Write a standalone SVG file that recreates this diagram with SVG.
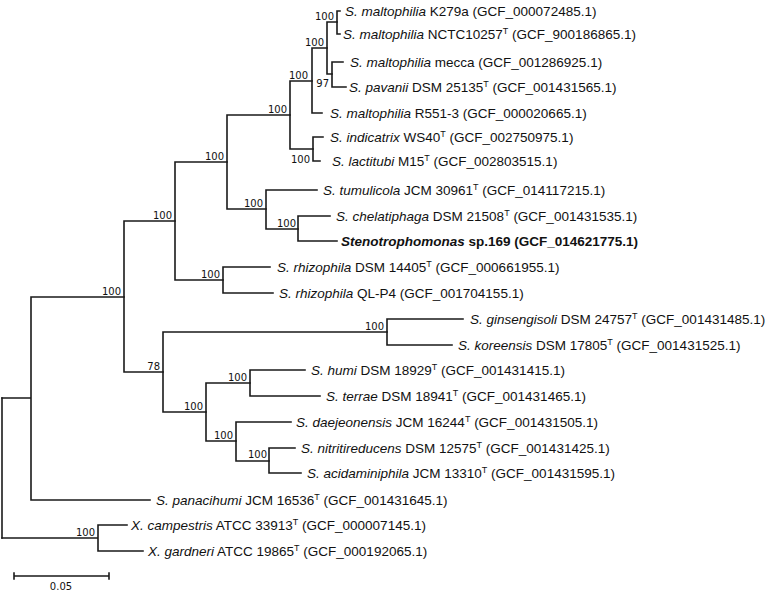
<svg xmlns="http://www.w3.org/2000/svg" width="772" height="593" viewBox="0 0 772 593">
<style>
.t{font-family:"Liberation Sans",Arial,sans-serif;font-size:13.5px;fill:#111}
.i{font-style:italic}
.b{font-weight:bold}
.s{font-size:9px}
.bs{font-family:"DejaVu Sans",Verdana,sans-serif;font-size:10px;fill:#111;text-anchor:end}
.br{fill:none;stroke:#1a1a1a;stroke-width:1.6;stroke-linecap:square}
</style>
<rect width="772" height="593" fill="#fff"/>
<g id="connectors" class="br">
<path d="M2,398V538"/>
<path d="M2,398H31M31,297V500M31,297H124M31,500H150"/>
<path d="M2,538H98M98,525V551M98,525H127M98,551H143"/>
<path d="M124,221V372M124,221H175M124,372H163"/>
<path d="M175,162V280M175,162H227M175,280H223"/>
<path d="M223,267V293M223,267H270M223,293H273"/>
<path d="M227,115V209M227,115H290M227,209H266"/>
<path d="M290,81V149M290,81H312M290,149H313"/>
<path d="M312,48V113M312,48H327M312,113H322"/>
<path d="M327,22V74M327,22H337M327,74H332"/>
<path d="M337,11V34M337,11H340M337,34H340"/>
<path d="M332,62V87M332,62H343M332,87H346"/>
<path d="M313,137V161M313,137H323M313,161H320"/>
<path d="M266,190V229M266,190H317M266,229H298"/>
<path d="M298,216V241M298,216H330M298,241H337"/>
<path d="M163,332V412M163,332H387M163,412H206"/>
<path d="M387,319V345M387,319H463M387,345H452"/>
<path d="M206,383V441M206,383H250M206,441H236"/>
<path d="M250,370V396M250,370H305M250,396H320"/>
<path d="M236,422V461M236,422H291M236,461H269"/>
<path d="M269,448V473M269,448H295M269,473H301"/>
</g>
<g id="leaves" class="t">
<g id="leaf1"><text x="345" y="16"><tspan class="i">S. maltophilia</tspan> K279a (GCF_000072485.1)</text></g>
<g id="leaf2"><text x="343" y="39"><tspan class="i">S. maltophilia</tspan> NCTC10257<tspan class="s" dy="-5">T</tspan><tspan dy="5"> (GCF_900186865.1)</tspan></text></g>
<g id="leaf3"><text x="350" y="67"><tspan class="i">S. maltophilia</tspan> mecca (GCF_001286925.1)</text></g>
<g id="leaf4"><text x="349" y="92"><tspan class="i">S. pavanii</tspan> DSM 25135<tspan class="s" dy="-5">T</tspan><tspan dy="5"> (GCF_001431565.1)</tspan></text></g>
<g id="leaf5"><text x="330" y="118"><tspan class="i">S. maltophilia</tspan> R551-3 (GCF_000020665.1)</text></g>
<g id="leaf6"><text x="330" y="142"><tspan class="i">S. indicatrix</tspan> WS40<tspan class="s" dy="-5">T</tspan><tspan dy="5"> (GCF_002750975.1)</tspan></text></g>
<g id="leaf7"><text x="332" y="166"><tspan class="i">S. lactitubi</tspan> M15<tspan class="s" dy="-5">T</tspan><tspan dy="5"> (GCF_002803515.1)</tspan></text></g>
<g id="leaf8"><text x="323" y="195"><tspan class="i">S. tumulicola</tspan> JCM 30961<tspan class="s" dy="-5">T</tspan><tspan dy="5"> (GCF_014117215.1)</tspan></text></g>
<g id="leaf9"><text x="336" y="221"><tspan class="i">S. chelatiphaga</tspan> DSM 21508<tspan class="s" dy="-5">T</tspan><tspan dy="5"> (GCF_001431535.1)</tspan></text></g>
<g id="leaf10"><text x="341" y="246" class="b"><tspan class="i">Stenotrophomonas</tspan> sp.169 (GCF_014621775.1)</text></g>
<g id="leaf11"><text x="277" y="272"><tspan class="i">S. rhizophila</tspan> DSM 14405<tspan class="s" dy="-5">T</tspan><tspan dy="5"> (GCF_000661955.1)</tspan></text></g>
<g id="leaf12"><text x="279" y="298"><tspan class="i">S. rhizophila</tspan> QL-P4 (GCF_001704155.1)</text></g>
<g id="leaf13"><text x="470" y="324"><tspan class="i">S. ginsengisoli</tspan> DSM 24757<tspan class="s" dy="-5">T</tspan><tspan dy="5"> (GCF_001431485.1)</tspan></text></g>
<g id="leaf14"><text x="458" y="350"><tspan class="i">S. koreensis</tspan> DSM 17805<tspan class="s" dy="-5">T</tspan><tspan dy="5"> (GCF_001431525.1)</tspan></text></g>
<g id="leaf15"><text x="311" y="375"><tspan class="i">S. humi</tspan> DSM 18929<tspan class="s" dy="-5">T</tspan><tspan dy="5"> (GCF_001431415.1)</tspan></text></g>
<g id="leaf16"><text x="326" y="401"><tspan class="i">S. terrae</tspan> DSM 18941<tspan class="s" dy="-5">T</tspan><tspan dy="5"> (GCF_001431465.1)</tspan></text></g>
<g id="leaf17"><text x="296" y="427"><tspan class="i">S. daejeonensis</tspan> JCM 16244<tspan class="s" dy="-5">T</tspan><tspan dy="5"> (GCF_001431505.1)</tspan></text></g>
<g id="leaf18"><text x="301" y="453"><tspan class="i">S. nitritireducens</tspan> DSM 12575<tspan class="s" dy="-5">T</tspan><tspan dy="5"> (GCF_001431425.1)</tspan></text></g>
<g id="leaf19"><text x="307" y="478"><tspan class="i">S. acidaminiphila</tspan> JCM 13310<tspan class="s" dy="-5">T</tspan><tspan dy="5"> (GCF_001431595.1)</tspan></text></g>
<g id="leaf20"><text x="156" y="505"><tspan class="i">S. panacihumi</tspan> JCM 16536<tspan class="s" dy="-5">T</tspan><tspan dy="5"> (GCF_001431645.1)</tspan></text></g>
<g id="leaf21"><text x="131" y="530"><tspan class="i">X. campestris</tspan> ATCC 33913<tspan class="s" dy="-5">T</tspan><tspan dy="5"> (GCF_000007145.1)</tspan></text></g>
<g id="leaf22"><text x="148" y="556"><tspan class="i">X. gardneri</tspan> ATCC 19865<tspan class="s" dy="-5">T</tspan><tspan dy="5"> (GCF_000192065.1)</tspan></text></g>
</g>
<g id="bootstrap" class="bs">
<g id="n337"><text x="334" y="20">100</text></g>
<g id="n327"><text x="324" y="46">100</text></g>
<g id="n312"><text x="308" y="79">100</text></g>
<g id="n332"><text x="329" y="87">97</text></g>
<g id="n290"><text x="287" y="113">100</text></g>
<g id="n313"><text x="310" y="163">100</text></g>
<g id="n227"><text x="224" y="160">100</text></g>
<g id="n266"><text x="263" y="207">100</text></g>
<g id="n298"><text x="296" y="227">100</text></g>
<g id="n175"><text x="172" y="219">100</text></g>
<g id="n223"><text x="220" y="278">100</text></g>
<g id="n124"><text x="121" y="295">100</text></g>
<g id="n387"><text x="384" y="330">100</text></g>
<g id="n163"><text x="160" y="370">78</text></g>
<g id="n250"><text x="247" y="381">100</text></g>
<g id="n206"><text x="203" y="410">100</text></g>
<g id="n236"><text x="233" y="439">100</text></g>
<g id="n269"><text x="267" y="458">100</text></g>
<g id="n98"><text x="95" y="536">100</text></g>
</g>
<g id="scalebar">
<path class="br" d="M14,576H109M14,573V579M109,573V579"/>
<text x="61" y="590" class="bs" style="text-anchor:middle">0.05</text>
</g>
</svg>
